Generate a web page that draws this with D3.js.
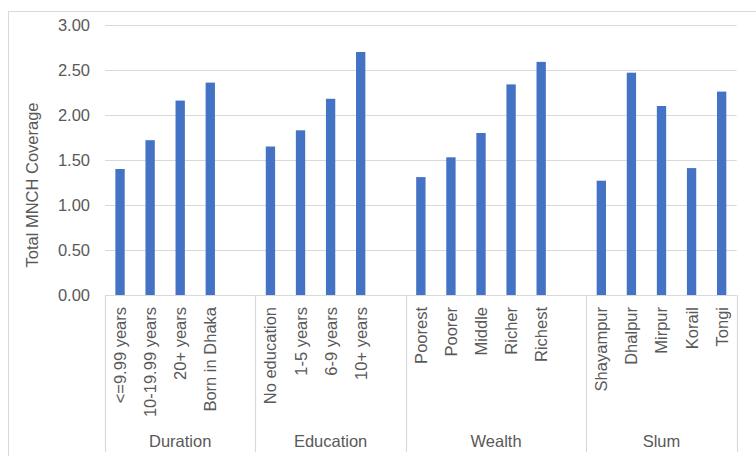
<!DOCTYPE html>
<html>
<head>
<meta charset="utf-8">
<script src="https://cdn.jsdelivr.net/npm/d3@7/dist/d3.min.js"></script>
<style>
  html, body { margin: 0; padding: 0; background: #fff; }
  svg { display: block; font-family: "Liberation Sans", Arial, sans-serif; }
</style>
</head>
<body>
<svg id="chart" width="756" height="456"></svg>
<script>
// Total MNCH coverage by group
const groups = ["Duration", "Education", "Wealth", "Slum"];

const durationLabels = ["<=9.99 years", "10-19.99 years", "20+ years", "Born in Dhaka"];
const durationValues = [1.40, 1.72, 2.16, 2.36];

const educationLabels = ["No education", "1-5 years", "6-9 years", "10+ years"];
const educationValues = [1.65, 1.83, 2.18, 2.70];

const wealthLabels = ["Poorest", "Poorer", "Middle", "Richer", "Richest"];
const wealthValues = [1.31, 1.53, 1.80, 2.34, 2.59];

const slumLabels = ["Shayampur", "Dhalpur", "Mirpur", "Korail", "Tongi"];
const slumValues = [1.27, 2.47, 2.10, 1.41, 2.26];

const yTicks = [0, 0.5, 1.0, 1.5, 2.0, 2.5, 3.0];
const yTitle = "Total MNCH Coverage";

const groupData = [
  { name: groups[0], labels: durationLabels, values: durationValues },
  { name: groups[1], labels: educationLabels, values: educationValues },
  { name: groups[2], labels: wealthLabels, values: wealthValues },
  { name: groups[3], labels: slumLabels, values: slumValues }
];

// Flatten into slots; an empty slot follows every group except the last
const slots = [];
groupData.forEach((g, gi) => {
  g.labels.forEach((l, i) => slots.push({ key: g.name + "|" + l, label: l, value: g.values[i], group: g.name }));
  if (gi < groupData.length - 1) slots.push({ key: g.name + "|gap", label: null, value: null, group: g.name });
});

const svg = d3.select("#chart");
const plot = { left: 105, right: 736.7, top: 25, bottom: 295 };
const grid = "#d9d9d9";
const textColor = "#595959";
const fs = 16.5;

// Chart frame
svg.append("rect")
  .attr("x", 8.5).attr("y", 11.5)
  .attr("width", 760).attr("height", 460)
  .attr("fill", "none").attr("stroke", grid).attr("stroke-width", 1);

const x = d3.scaleBand().domain(slots.map(d => d.key)).range([plot.left, plot.right]).padding(0);
const y = d3.scaleLinear().domain([0, 3]).range([plot.bottom, plot.top]);

// Horizontal gridlines
svg.append("g")
  .selectAll("line")
  .data(yTicks.filter(t => t > 0))
  .join("line")
  .attr("x1", plot.left).attr("x2", plot.right)
  .attr("y1", d => Math.round(y(d)) + 0.5).attr("y2", d => Math.round(y(d)) + 0.5)
  .attr("stroke", grid).attr("stroke-width", 1);

// Y axis labels
const yAxis = d3.axisLeft(y).tickValues(yTicks).tickFormat(d3.format(".2f")).tickSize(0).tickPadding(15);
const yg = svg.append("g").attr("transform", `translate(${plot.left},0)`).call(yAxis);
yg.select(".domain").remove();
yg.selectAll("text").attr("fill", textColor).style("font-size", fs + "px").style("font-family", "Liberation Sans, Arial, sans-serif");

// Y axis title
svg.append("text")
  .attr("transform", `translate(38,185) rotate(-90)`)
  .attr("text-anchor", "middle")
  .attr("fill", textColor)
  .style("font-size", fs + "px")
  .text(yTitle);

// Bars
const barW = x.bandwidth() * 0.31;
svg.append("g")
  .selectAll("rect")
  .data(slots.filter(d => d.value !== null))
  .join("rect")
  .attr("x", d => x(d.key) + (x.bandwidth() - barW) / 2)
  .attr("width", barW)
  .attr("y", d => y(d.value))
  .attr("height", d => y(0) - y(d.value))
  .attr("fill", "#4472C4");

// Category axis line
svg.append("line")
  .attr("x1", plot.left).attr("x2", plot.right)
  .attr("y1", plot.bottom + 0.5).attr("y2", plot.bottom + 0.5)
  .attr("stroke", grid).attr("stroke-width", 1.2);

// Group separators
const bounds = [];
let start = plot.left;
groupData.forEach((g, gi) => {
  const keys = slots.filter(s => s.group === g.name);
  const end = x(keys[keys.length - 1].key) + x.bandwidth();
  bounds.push({ name: g.name, start, end });
  start = end;
});
const sepX = [plot.left].concat(bounds.map(b => b.end));
svg.append("g")
  .selectAll("line")
  .data(sepX)
  .join("line")
  .attr("x1", d => Math.round(d) + 0.5).attr("x2", d => Math.round(d) + 0.5)
  .attr("y1", plot.bottom).attr("y2", 452)
  .attr("stroke", grid).attr("stroke-width", 1.2);

// Rotated category labels
svg.append("g")
  .selectAll("text")
  .data(slots.filter(d => d.label !== null))
  .join("text")
  .attr("transform", d => `translate(${x(d.key) + x.bandwidth() / 2 + 6},307) rotate(-90)`)
  .attr("text-anchor", "end")
  .attr("fill", textColor)
  .style("font-size", fs + "px")
  .text(d => d.label);

// Group labels
svg.append("g")
  .selectAll("text")
  .data(bounds)
  .join("text")
  .attr("x", d => (d.start + d.end) / 2)
  .attr("y", 446.5)
  .attr("text-anchor", "middle")
  .attr("fill", textColor)
  .style("font-size", fs + "px")
  .text(d => d.name);
</script>
</body>
</html>
